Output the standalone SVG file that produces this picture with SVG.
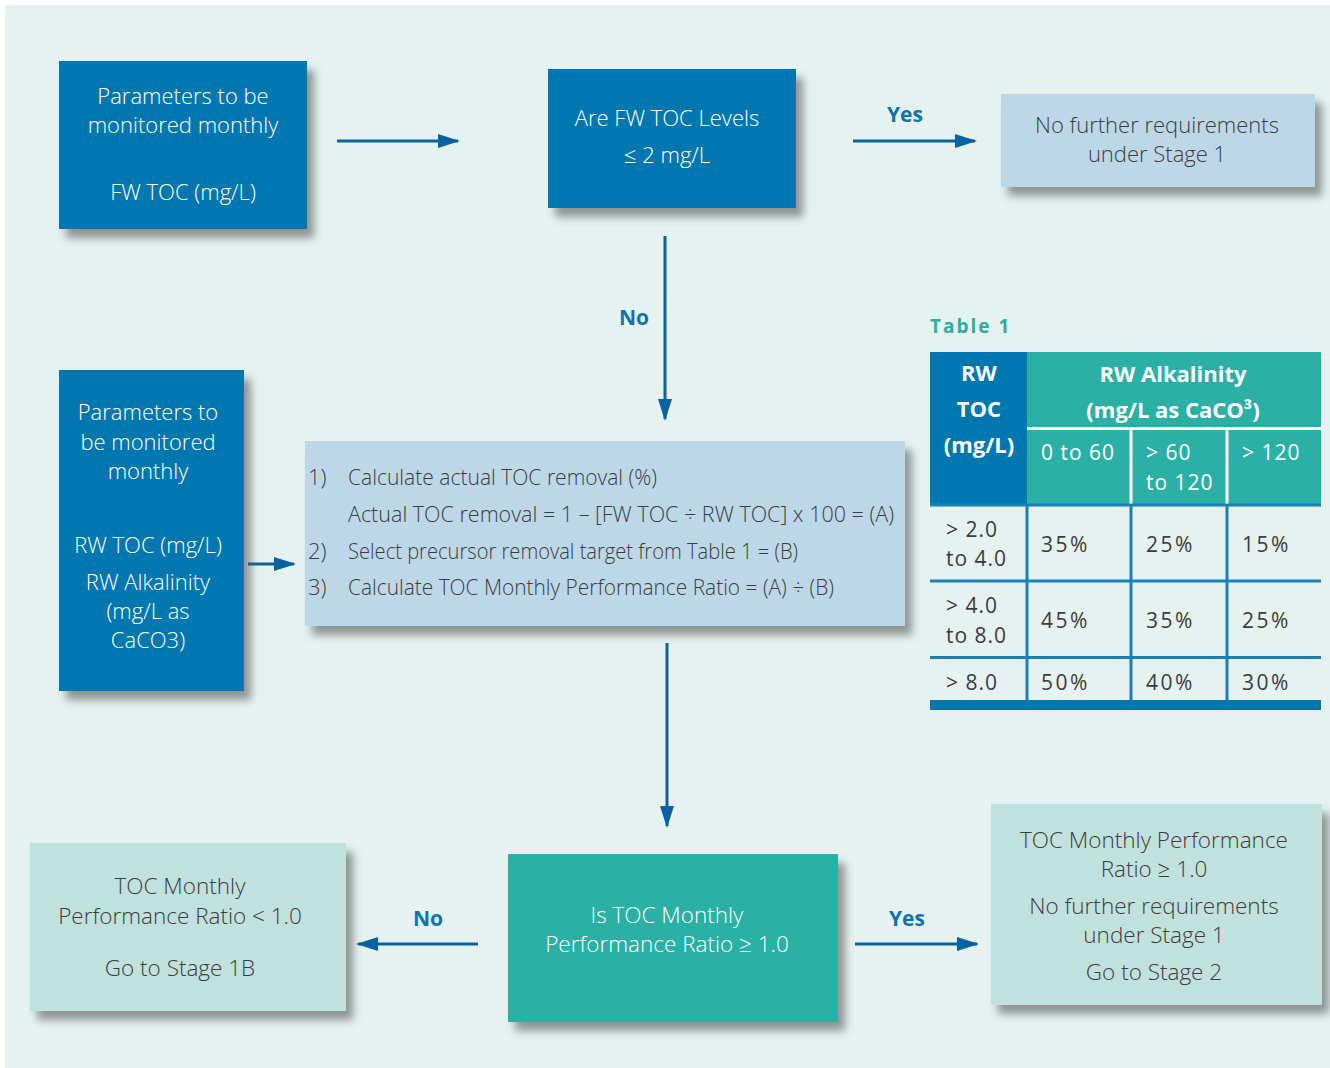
<svg xmlns="http://www.w3.org/2000/svg" width="1330" height="1068" viewBox="0 0 1330 1068">
<defs>
<filter id="sh" x="-10%" y="-10%" width="130%" height="140%">
<feDropShadow dx="7" dy="9" stdDeviation="4" flood-color="#555" flood-opacity="0.6"/>
</filter>
<marker id="ah" markerWidth="22" markerHeight="14" refX="20" refY="7" orient="auto" markerUnits="userSpaceOnUse">
<path d="M0,0 L22,7 L0,14 Z" fill="#0a62a1"/>
</marker>
<style>
.t{font-family:"Open Sans","Noto Sans",sans-serif;font-size:22px;font-weight:300}
.b{font-size:22.5px}
.w{fill:#ffffff}
.d{fill:#3c3c3c}
.c{text-anchor:middle}
.lbl{font-family:"Open Sans","Noto Sans",sans-serif;font-size:21px;font-weight:700;fill:#0f73ae;text-anchor:middle}
.hd{font-family:"Open Sans","Noto Sans",sans-serif;font-size:22px;font-weight:700;fill:#fff}
.tb{font-family:"Open Sans","Noto Sans",sans-serif;font-size:21px;fill:#3c3c3c;letter-spacing:1px}
.pc{letter-spacing:2.5px}
.conn{stroke:#0a62a1;stroke-width:3;fill:none;marker-end:url(#ah)}
.grid{stroke:#1a80b9;stroke-width:3}
</style>
</defs>
<rect x="0" y="0" width="1330" height="1068" fill="#ffffff"/>
<rect x="5" y="5" width="1325" height="1063" fill="#e5f2f0"/>

<g id="connectors">
<line class="conn" x1="337" y1="141" x2="458" y2="141"/>
<line class="conn" x1="853" y1="141" x2="975" y2="141"/>
<line class="conn" x1="665" y1="236" x2="665" y2="419"/>
<line class="conn" x1="248" y1="564" x2="294" y2="564"/>
<line class="conn" x1="667" y1="643" x2="667" y2="826"/>
<line class="conn" x1="478" y1="944" x2="358" y2="944"/>
<line class="conn" x1="855" y1="944" x2="977" y2="944"/>
<text class="lbl" x="905" y="122">Yes</text>
<text class="lbl" x="634" y="325">No</text>
<text class="lbl" x="428" y="926">No</text>
<text class="lbl" x="907" y="926">Yes</text>
</g>

<g id="n1">
<rect x="59" y="61" width="248" height="168" fill="#0077ae" filter="url(#sh)"/>
<text class="t w c" x="183" y="104">Parameters to be</text>
<text class="t w c" x="183" y="133">monitored monthly</text>
<text class="t w c" x="183" y="200">FW TOC (mg/L)</text>
</g>

<g id="n2">
<rect x="548" y="69" width="248" height="139" fill="#0077ae" filter="url(#sh)"/>
<text class="t w c" x="667" y="126">Are FW TOC Levels</text>
<text class="t w c" x="667" y="163">≤ 2 mg/L</text>
</g>

<g id="n3">
<rect x="1001" y="94" width="314" height="93" fill="#bcd7e8" filter="url(#sh)"/>
<text class="t d c" x="1157" y="133">No further requirements</text>
<text class="t d c" x="1157" y="162">under Stage 1</text>
</g>

<g id="n4">
<rect x="59" y="370" width="185" height="321" fill="#0077ae" filter="url(#sh)"/>
<text class="t w c" x="148" y="420">Parameters to</text>
<text class="t w c" x="148" y="450">be monitored</text>
<text class="t w c" x="148" y="479">monthly</text>
<text class="t w c" x="148" y="553">RW TOC (mg/L)</text>
<text class="t w c" x="148" y="590">RW Alkalinity</text>
<text class="t w c" x="148" y="619">(mg/L as</text>
<text class="t w c" x="148" y="648">CaCO3)</text>
</g>

<g id="n5">
<rect x="305" y="441" width="600" height="185" fill="#bcd7e8" filter="url(#sh)"/>
<text class="t d" x="308" y="485">1)</text>
<text class="t d" x="348" y="485" textLength="309" lengthAdjust="spacingAndGlyphs">Calculate actual TOC removal (%)</text>
<text class="t d" x="348" y="522" textLength="546" lengthAdjust="spacingAndGlyphs">Actual TOC removal = 1 – [FW TOC ÷ RW TOC] x 100 = (A)</text>
<text class="t d" x="308" y="559">2)</text>
<text class="t d" x="348" y="559" textLength="450" lengthAdjust="spacingAndGlyphs">Select precursor removal target from Table 1 = (B)</text>
<text class="t d" x="308" y="595">3)</text>
<text class="t d" x="348" y="595" textLength="486" lengthAdjust="spacingAndGlyphs">Calculate TOC Monthly Performance Ratio = (A) ÷ (B)</text>
</g>

<g id="n6">
<rect x="508" y="854" width="330" height="168" fill="#2bb0a5" filter="url(#sh)"/>
<text class="t b w c" x="667" y="923">Is TOC Monthly</text>
<text class="t b w c" x="667" y="952">Performance Ratio ≥ 1.0</text>
</g>

<g id="n7">
<rect x="30" y="843" width="316" height="168" fill="#c0e1dc" filter="url(#sh)"/>
<text class="t b d c" x="180" y="894">TOC Monthly</text>
<text class="t b d c" x="180" y="924">Performance Ratio &lt; 1.0</text>
<text class="t b d c" x="180" y="976">Go to Stage 1B</text>
</g>

<g id="n8">
<rect x="991" y="804" width="331" height="201" fill="#c0e1dc" filter="url(#sh)"/>
<text class="t b d c" x="1154" y="848">TOC Monthly Performance</text>
<text class="t b d c" x="1154" y="877">Ratio ≥ 1.0</text>
<text class="t b d c" x="1154" y="914">No further requirements</text>
<text class="t b d c" x="1154" y="943">under Stage 1</text>
<text class="t b d c" x="1154" y="980">Go to Stage 2</text>
</g>

<g id="table1">
<text x="930" y="333" font-family="'Open Sans','Noto Sans',sans-serif" font-size="19" font-weight="700" fill="#2aaea3" letter-spacing="2">Table 1</text>
<rect x="930" y="352" width="97" height="153" fill="#0077ae"/>
<rect x="1027" y="352" width="294" height="153" fill="#2bb0a5"/>
<line x1="1027" y1="428.5" x2="1321" y2="428.5" stroke="#fff" stroke-width="3"/>
<line x1="1131" y1="428" x2="1131" y2="505" stroke="#fff" stroke-width="3"/>
<line x1="1227" y1="428" x2="1227" y2="505" stroke="#fff" stroke-width="3"/>
<line class="grid" x1="930" y1="505" x2="1321" y2="505"/>
<line class="grid" x1="930" y1="581" x2="1321" y2="581"/>
<line class="grid" x1="930" y1="657.5" x2="1321" y2="657.5"/>
<line class="grid" x1="1027" y1="505" x2="1027" y2="705"/>
<line class="grid" x1="1131" y1="505" x2="1131" y2="705"/>
<line class="grid" x1="1227" y1="505" x2="1227" y2="705"/>
<rect x="930" y="700" width="391" height="10" fill="#0077ae"/>
<text class="hd" x="979" y="381" text-anchor="middle">RW</text>
<text class="hd" x="979" y="417" text-anchor="middle">TOC</text>
<text class="hd" x="979" y="453" text-anchor="middle">(mg/L)</text>
<text class="hd" x="1173" y="382" text-anchor="middle">RW Alkalinity</text>
<text class="hd" x="1173" y="418" text-anchor="middle">(mg/L as CaCO³)</text>
<text class="tb" x="1041" y="460" style="fill:#fff">0 to 60</text>
<text class="tb" x="1146" y="460" style="fill:#fff">&gt; 60</text>
<text class="tb" x="1146" y="490" style="fill:#fff">to 120</text>
<text class="tb" x="1242" y="460" style="fill:#fff">&gt; 120</text>
<text class="tb" x="946" y="537">&gt; 2.0</text>
<text class="tb" x="946" y="566">to 4.0</text>
<text class="tb pc" x="1041" y="552">35%</text>
<text class="tb pc" x="1146" y="552">25%</text>
<text class="tb pc" x="1242" y="552">15%</text>
<text class="tb" x="946" y="613">&gt; 4.0</text>
<text class="tb" x="946" y="643">to 8.0</text>
<text class="tb pc" x="1041" y="628">45%</text>
<text class="tb pc" x="1146" y="628">35%</text>
<text class="tb pc" x="1242" y="628">25%</text>
<text class="tb" x="946" y="690">&gt; 8.0</text>
<text class="tb pc" x="1041" y="690">50%</text>
<text class="tb pc" x="1146" y="690">40%</text>
<text class="tb pc" x="1242" y="690">30%</text>
</g>
</svg>
